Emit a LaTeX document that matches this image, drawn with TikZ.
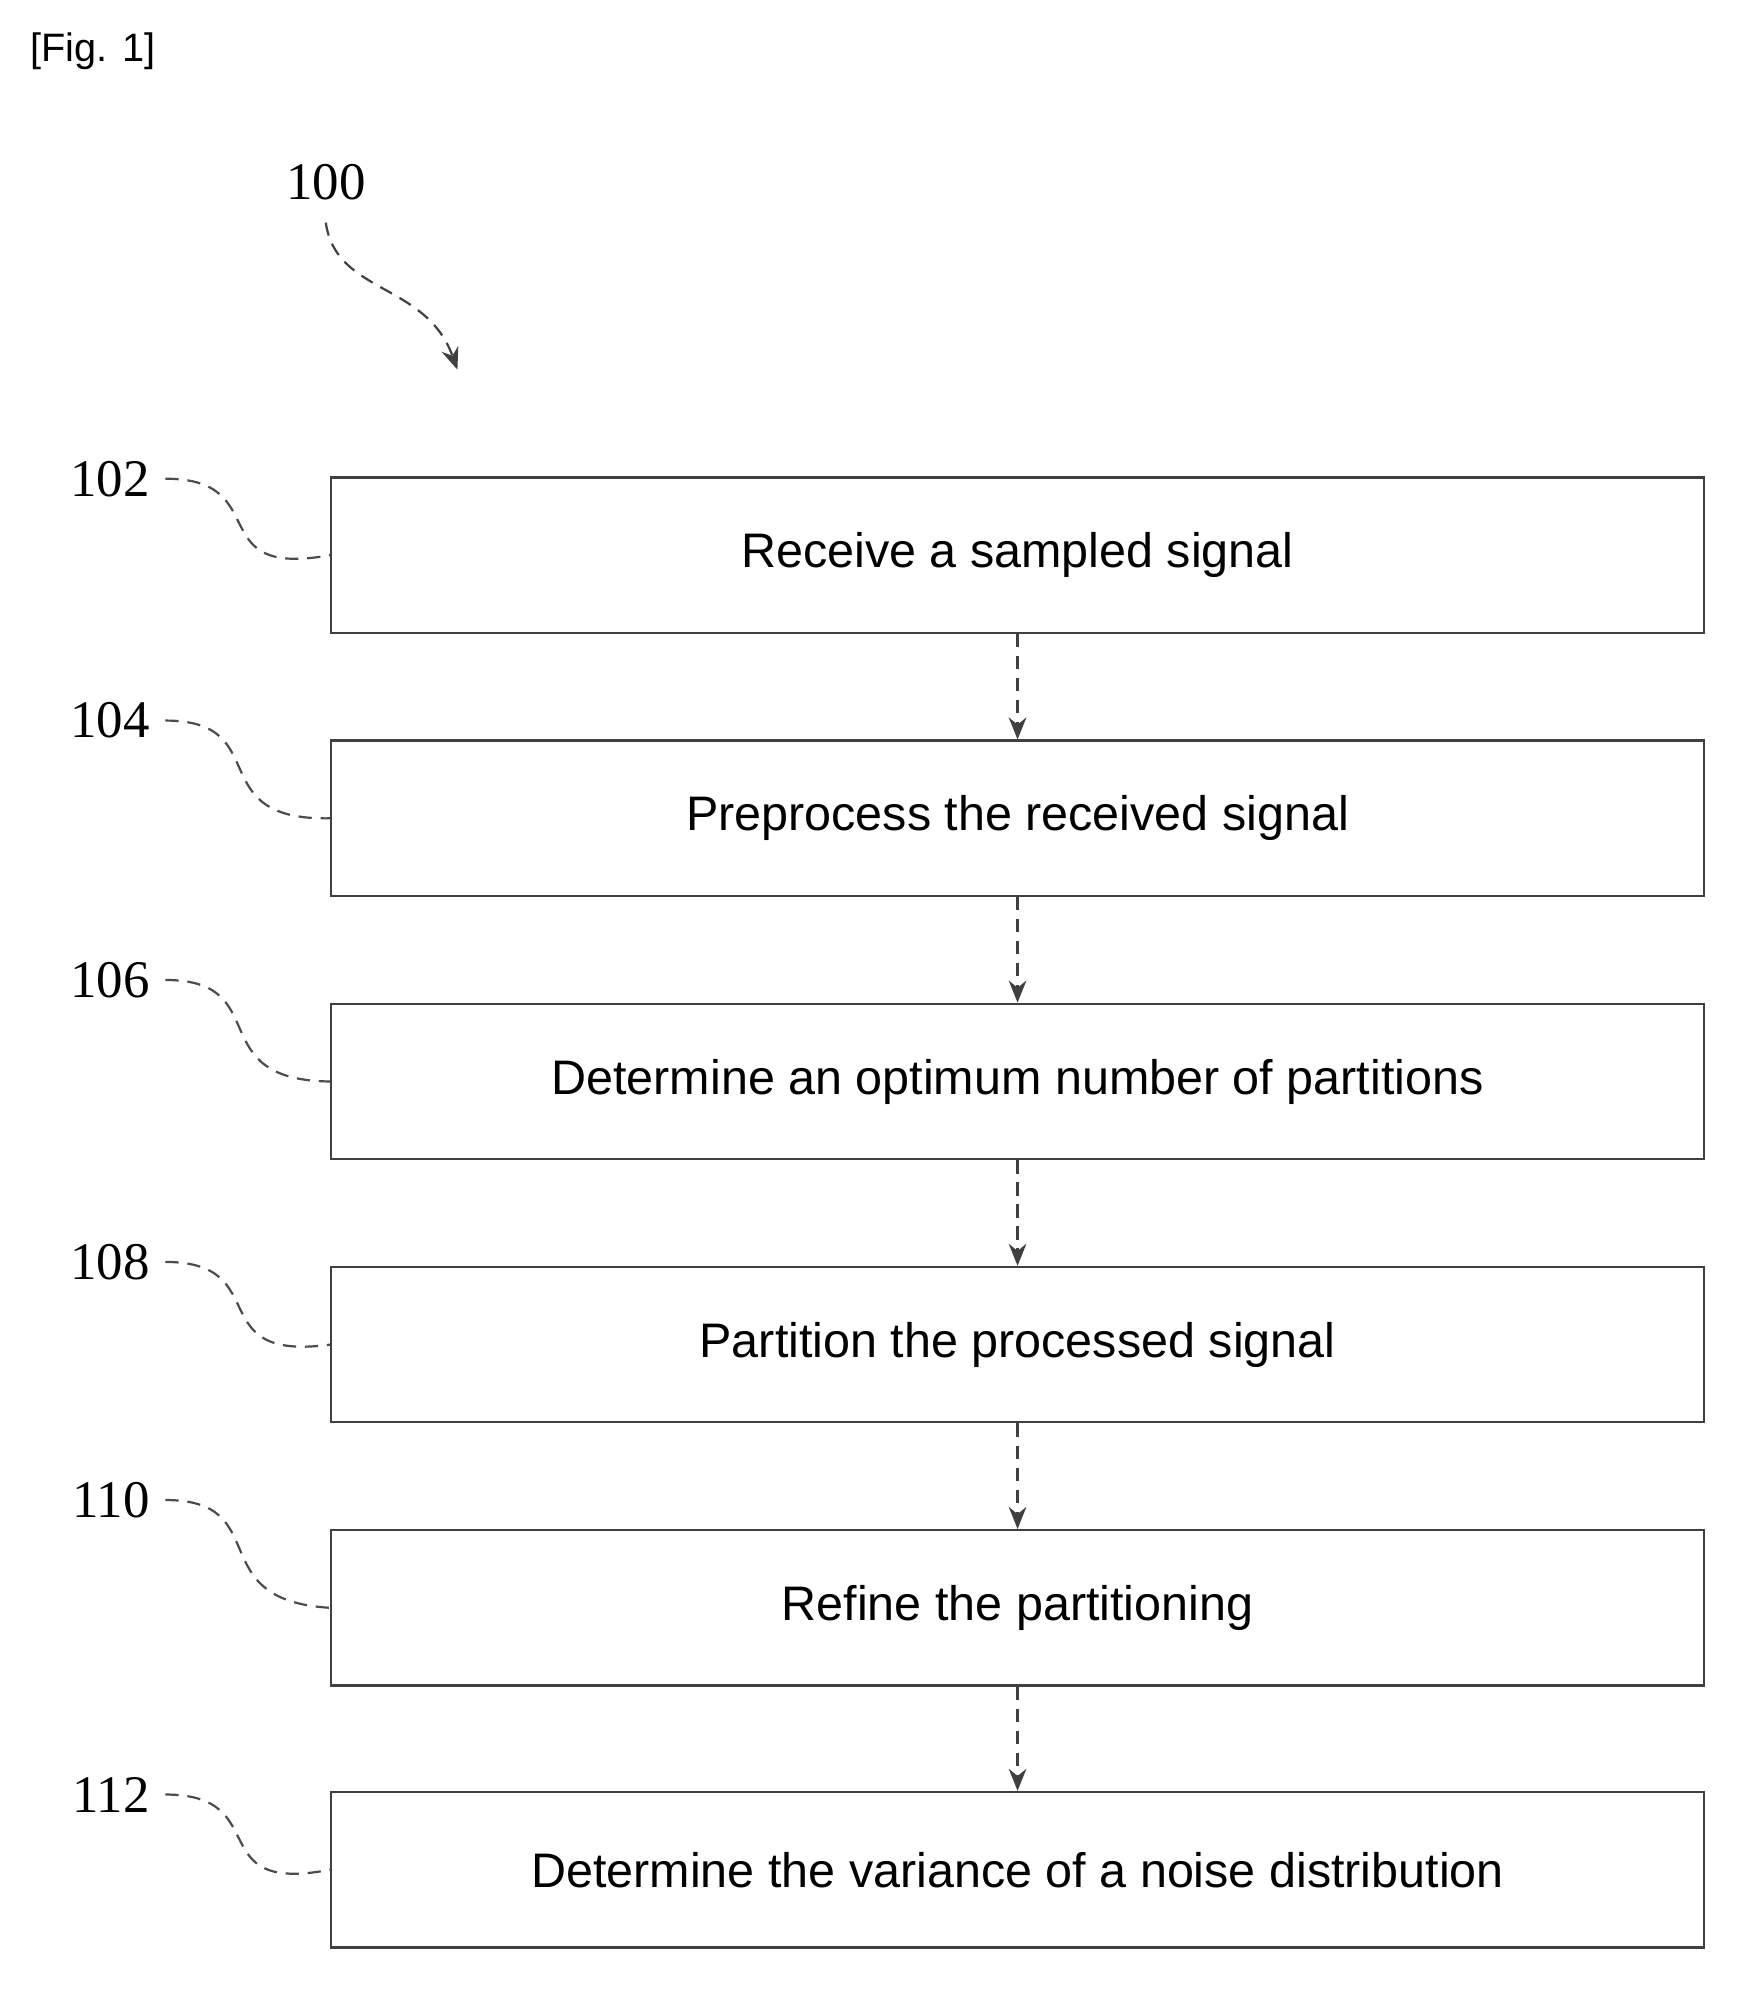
\documentclass[tikz,border=0pt]{standalone}
\usepackage{fontspec}
\setmainfont{Liberation Serif}
\setsansfont{Liberation Sans}
\usetikzlibrary{positioning,arrows.meta}

\begin{document}
\begin{tikzpicture}[x=0.01cm,y=-0.01cm,
  stepbox/.style={draw=black!75,line width=0.5pt,minimum width=10.95cm,minimum height=1.24cm,
    font=\sffamily\fontsize{11}{14}\selectfont},
  num/.style={font=\fontsize{12}{14}\selectfont},
  flow/.style={-{Stealth[length=5pt,width=4pt]},draw=black!75,line width=0.5pt,densely dashed},
  lead/.style={draw=black!70,line width=0.5pt,densely dashed}]
  \useasboundingbox (0,0) rectangle (1390,1588);

  \node[font=\sffamily\fontsize{9}{11}\selectfont,anchor=north west] (fig) at (12,14) {[Fig. 1]};

  % the steps
  \node[stepbox] (s102) at (812,443) {Receive a sampled signal};
  \node[stepbox] (s104) at (812,653) {Preprocess the received signal};
  \node[stepbox] (s106) at (812,863) {Determine an optimum number of partitions};
  \node[stepbox] (s108) at (812,1073) {Partition the processed signal};
  \node[stepbox] (s110) at (812,1283) {Refine the partitioning};
  \node[stepbox] (s112) at (812,1492) {Determine the variance of a noise distribution};

  \foreach \a/\b in {s102/s104,s104/s106,s106/s108,s108/s110,s110/s112}
    \draw[flow] (\a) -- (\b);

  % reference numerals
  \node[num] (n100) at (260,145) {100};
  \coordinate (c100) at (365,295);
  \draw[flow] (n100.south) ++(0,6) .. controls (268,235) and (340,225) .. (c100);

  \foreach \n/\y in {102/382,104/575,106/782,108/1007,110/1197,112/1432}{
    \node[num,anchor=east] (n\n) at (132,\y) {\n};
    \draw[lead] (n\n.east) .. controls (220,\y) and (160,\y+80) .. (s\n.west);
  }
\end{tikzpicture}
\end{document}
